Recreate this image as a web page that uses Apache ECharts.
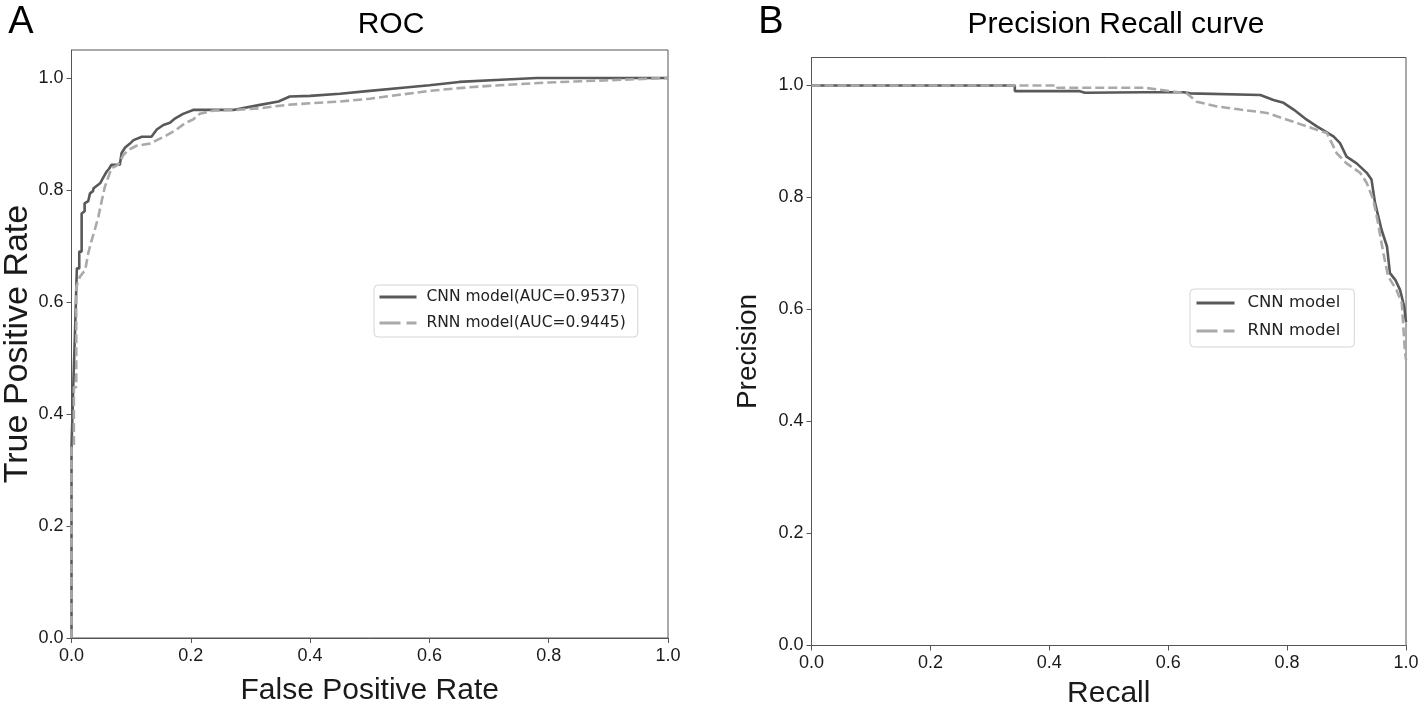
<!DOCTYPE html>
<html>
<head>
<meta charset="utf-8">
<script src="https://cdn.jsdelivr.net/npm/echarts@6/dist/echarts.min.js"></script>
<style>
html,body{margin:0;padding:0;background:#fff;}
#c{width:1418px;height:707px;}
</style>
</head>
<body>
<div id="c"></div>
<script>
// ---- ROC data ----
const rocCnnFpr = [0,0,0.003,0.003,0.006,0.006,0.009,0.009,0.013,0.013,0.017,0.017,0.022,0.022,0.028,0.031,0.036,0.037,0.048,0.052,0.059,0.063,0.067,0.081,0.084,0.09,0.097,0.104,0.118,0.134,0.143,0.154,0.165,0.174,0.187,0.204,0.271,0.316,0.347,0.366,0.40,0.45,0.50,0.56,0.60,0.65,0.72,0.78,1.0];
const rocCnnTpr = [0,0.34,0.34,0.45,0.45,0.55,0.55,0.66,0.66,0.69,0.69,0.758,0.762,0.776,0.78,0.794,0.798,0.803,0.812,0.82,0.833,0.838,0.845,0.845,0.866,0.876,0.882,0.889,0.895,0.895,0.908,0.916,0.92,0.928,0.936,0.943,0.943,0.952,0.958,0.967,0.968,0.972,0.977,0.983,0.987,0.993,0.997,1.0,1.0];
const rocRnnFpr = [0,0,0.004,0.004,0.008,0.008,0.014,0.023,0.028,0.034,0.039,0.045,0.051,0.056,0.062,0.067,0.078,0.087,0.095,0.109,0.132,0.143,0.16,0.176,0.19,0.204,0.215,0.238,0.277,0.316,0.361,0.40,0.45,0.50,0.55,0.60,0.65,0.70,0.80,0.90,1.0];
const rocRnnTpr = [0,0.34,0.341,0.448,0.448,0.627,0.645,0.657,0.687,0.711,0.729,0.752,0.782,0.806,0.824,0.839,0.845,0.8625,0.871,0.879,0.883,0.889,0.898,0.908,0.919,0.926,0.936,0.942,0.943,0.946,0.952,0.955,0.958,0.963,0.970,0.977,0.982,0.986,0.992,0.996,1.0];
// ---- Precision-Recall data ----
const prCnnRecall = [0,0.342,0.342,0.45,0.46,0.559,0.626,0.637,0.755,0.777,0.794,0.811,0.833,0.85,0.878,0.889,0.9,0.917,0.934,0.942,0.948,0.959,0.968,0.973,0.982,0.99,0.997,1.0];
const prCnnPrecision = [1.0,1.0,0.99,0.99,0.987,0.988,0.988,0.986,0.983,0.974,0.969,0.957,0.939,0.927,0.909,0.897,0.873,0.861,0.844,0.832,0.79,0.742,0.7125,0.665,0.653,0.635,0.605,0.578];
const prRnnRecall = [0,0.413,0.413,0.56,0.631,0.648,0.682,0.721,0.766,0.8,0.833,0.867,0.8835,0.9,0.923,0.934,0.945,0.953,0.962,0.97,0.984,0.993,0.998,1.0];
const prRnnPrecision = [1.0,1.0,0.996,0.996,0.986,0.971,0.9625,0.957,0.951,0.939,0.927,0.915,0.879,0.861,0.844,0.826,0.796,0.754,0.70,0.659,0.635,0.611,0.528,0.51];
// ---- labels ----
const rocNames = ['CNN model(AUC=0.9537)', 'RNN model(AUC=0.9445)'];
const prNames = ['CNN model', 'RNN model'];
const tickValues = [0, 0.2, 0.4, 0.6, 0.8, 1.0];

const zip = (a, b) => a.map((v, i) => [v, b[i]]);

const AX = '#555555';
const TXT = '#1a1a1a';
const F = '"Liberation Sans", Arial, Helvetica, sans-serif';
const FL = '"DejaVu Sans", sans-serif';
const CNN_C = '#595959';
const RNN_C = '#a9a9a9';

function xAxisCfg(gi, name, gap) {
  return {
    type: 'value', gridIndex: gi, min: 0, max: 1, interval: 0.2,
    name: name, nameLocation: 'middle', nameGap: gap,
    nameTextStyle: {fontFamily: F, fontSize: 30, color: TXT},
    axisLine: {show: true, onZero: false, lineStyle: {color: AX, width: 1}},
    axisTick: {show: true, length: 5, lineStyle: {color: AX}},
    axisLabel: {fontFamily: F, fontSize: 18, color: TXT, margin: 9,
      formatter: v => v.toFixed(1)},
    splitLine: {show: false}
  };
}
function yAxisCfg(gi, name, gap, size) {
  return {
    type: 'value', gridIndex: gi, min: 0, max: 1.05, interval: 0.2,
    name: name, nameLocation: 'middle', nameGap: gap,
    nameTextStyle: {fontFamily: F, fontSize: size, color: TXT},
    axisLine: {show: true, onZero: false, lineStyle: {color: AX, width: 1}},
    axisTick: {show: true, length: 5, lineStyle: {color: AX}, customValues: tickValues},
    axisLabel: {fontFamily: F, fontSize: 18, color: TXT, margin: 8,
      customValues: tickValues,
      formatter: v => (Math.abs(v * 5 - Math.round(v * 5)) < 1e-6 ? v.toFixed(1) : '')},
    splitLine: {show: false}
  };
}
function legendCfg(names, left, top, pad, iw, fs, lh, tp) {
  return {
    data: [
      {name: names[0], lineStyle: {width: 3, type: 'solid'}},
      {name: names[1], lineStyle: {width: 3, type: [21, 6]}}
    ],
    orient: 'vertical', left: left, top: top,
    padding: pad, itemGap: 8, itemWidth: iw, itemHeight: 1,
    itemStyle: {opacity: 0},
    backgroundColor: '#fff', borderColor: '#d4d4d4', borderWidth: 1, borderRadius: 4,
    textStyle: {fontFamily: FL, fontSize: fs, color: '#222', lineHeight: lh, padding: [0, 0, 0, tp]},
    selectedMode: false
  };
}

const chart = echarts.init(document.getElementById('c'), null, {renderer: 'canvas'});
chart.setOption({
  backgroundColor: '#ffffff',
  animation: false,
  grid: [
    {left: 71.5, top: 50, width: 596.5, height: 588, outerBoundsMode: 'none', containLabel: false,
      show: true, borderColor: AX, borderWidth: 1, backgroundColor: 'transparent'},
    {left: 811.5, top: 57.5, width: 594.5, height: 588, outerBoundsMode: 'none', containLabel: false,
      show: true, borderColor: AX, borderWidth: 1, backgroundColor: 'transparent'}
  ],
  xAxis: [xAxisCfg(0, 'False Positive Rate', 38), xAxisCfg(1, 'Recall', 33)],
  yAxis: [yAxisCfg(0, 'True Positive Rate', 37, 34), yAxisCfg(1, 'Precision', 49, 28)],
  legend: [
    legendCfg(rocNames, 374, 285, [3, 12, 5, 4], 37, 15.5, 18, 5),
    legendCfg(prNames, 1190, 289, [4, 14, 6, 5], 38, 16.5, 20, 8)
  ],
  graphic: [
    {type: 'text', x: 21, y: 23, style: {text: 'A', font: '38px ' + F, fill: '#000', align: 'center', verticalAlign: 'middle'}},
    {type: 'text', x: 771, y: 23, style: {text: 'B', font: '38px ' + F, fill: '#000', align: 'center', verticalAlign: 'middle'}},
    {type: 'text', x: 391, y: 25, style: {text: 'ROC', font: '30px ' + F, fill: '#000', align: 'center', verticalAlign: 'middle'}},
    {type: 'text', x: 1116, y: 25, style: {text: 'Precision Recall curve', font: '30px ' + F, fill: '#000', align: 'center', verticalAlign: 'middle'}}
  ],
  series: [
    {name: rocNames[0], type: 'line', xAxisIndex: 0, yAxisIndex: 0, data: zip(rocCnnFpr, rocCnnTpr),
      symbol: 'none', lineStyle: {color: CNN_C, width: 2.6}, itemStyle: {color: CNN_C}},
    {name: rocNames[1], type: 'line', xAxisIndex: 0, yAxisIndex: 0, data: zip(rocRnnFpr, rocRnnTpr),
      symbol: 'none', lineStyle: {color: RNN_C, width: 2.6, type: [9, 4]}, itemStyle: {color: RNN_C}},
    {name: prNames[0], type: 'line', xAxisIndex: 1, yAxisIndex: 1, data: zip(prCnnRecall, prCnnPrecision),
      symbol: 'none', lineStyle: {color: CNN_C, width: 2.6}, itemStyle: {color: CNN_C}},
    {name: prNames[1], type: 'line', xAxisIndex: 1, yAxisIndex: 1, data: zip(prRnnRecall, prRnnPrecision),
      symbol: 'none', lineStyle: {color: RNN_C, width: 2.6, type: [9, 4]}, itemStyle: {color: RNN_C}}
  ]
});
</script>
</body>
</html>
